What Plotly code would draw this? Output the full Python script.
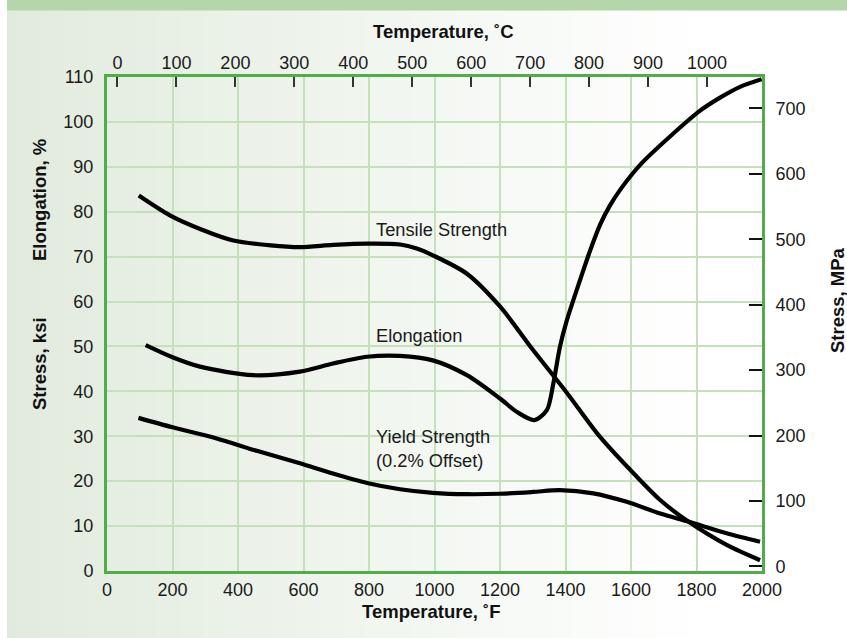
import plotly.graph_objects as go

# ---------------- data ----------------
tensile_F = [97, 192, 290, 386, 500, 589, 690, 794, 895, 946, 995, 1099, 1200, 1301, 1405, 1505, 1628, 1689, 1775, 1892, 1994]
tensile_ksi = [83.6, 79.2, 76.0, 73.6, 72.5, 72.1, 72.6, 72.9, 72.7, 71.8, 70.3, 66.2, 58.9, 49.2, 39.6, 29.9, 20.2, 15.8, 11.0, 5.8, 2.4]

elong_F = [118, 200, 284, 446, 589, 690, 794, 895, 995, 1099, 1200, 1252, 1305, 1343, 1363, 1383, 1404, 1444, 1475, 1505, 1535, 1570, 1630, 1720, 1811, 1872, 1933, 1999]
elong_pct = [50.3, 47.6, 45.5, 43.6, 44.4, 46.2, 47.7, 47.9, 46.9, 43.6, 38.4, 35.4, 33.6, 35.8, 41.8, 49.9, 55.8, 64.7, 71.3, 77.0, 81.3, 85.2, 90.6, 96.8, 102.5, 105.4, 107.8, 109.5]

yield_F = [96, 200, 335, 460, 589, 690, 794, 895, 995, 1099, 1200, 1301, 1383, 1485, 1587, 1689, 1775, 1892, 1994]
yield_ksi = [34.1, 32.0, 29.5, 26.7, 24.0, 21.7, 19.6, 18.2, 17.4, 17.1, 17.2, 17.6, 18.0, 17.3, 15.4, 12.8, 11.0, 8.4, 6.5]

F_ticks = list(range(0, 2001, 200))
C_ticks = list(range(0, 1001, 100))
ksi_ticks = list(range(0, 111, 10))
MPa_ticks = list(range(0, 701, 100))

labels = ["Tensile Strength", "Elongation", "Yield Strength<br>(0.2% Offset)"]
label_F = [815, 815, 815]
label_y = [76.1, 52.5, 27.2]

# ---------------- layout geometry ----------------
W, H = 847, 638
L, R, T, B = 107, 762, 77, 571
pw, ph = R - L, B - T


def px(x):
    return (x - L) / pw


def py(y):
    return (B - y) / ph


FONT = "Liberation Sans, Arial, Helvetica, sans-serif"
GREEN = "#4fae47"
GRID = "#c4e1bc"

fig = go.Figure()
for xs, ys in [(tensile_F, tensile_ksi), (elong_F, elong_pct), (yield_F, yield_ksi)]:
    fig.add_trace(go.Scatter(x=xs, y=ys, mode="lines",
                             line=dict(color="black", width=4.2, shape="spline", smoothing=0.8),
                             showlegend=False, hoverinfo="skip"))
# dummy trace to activate secondary axes
fig.add_trace(go.Scatter(x=[None], y=[None], xaxis="x2", yaxis="y2", showlegend=False,
                         hoverinfo="skip"))

shapes = []
# gradient background (light green -> white)
c0 = (0xE1, 0xEB, 0xDD)
c1 = (0xFF, 0xFF, 0xFF)
x_start, x_end, n = 7, 700, 60
step = (x_end - x_start) / n
for i in range(n):
    t = (i + 0.5) / n
    col = tuple(round(c0[k] + (c1[k] - c0[k]) * t) for k in range(3))
    shapes.append(dict(type="rect", xref="paper", yref="paper", layer="below",
                       x0=px(x_start + i * step), x1=px(x_start + (i + 1) * step + 1),
                       y0=py(H), y1=py(0), line=dict(width=0),
                       fillcolor="rgb(%d,%d,%d)" % col))
# top green bar
shapes.append(dict(type="rect", xref="paper", yref="paper", layer="below",
                   x0=px(7), x1=px(W), y0=py(10.5), y1=py(0), line=dict(width=0),
                   fillcolor="#b4d6aa"))

ann = []
for txt, xf, yv in zip(labels, label_F, label_y):
    ann.append(dict(text=txt, x=xf, y=yv, xref="x", yref="y", xanchor="left", yanchor="middle",
                    align="left", showarrow=False, font=dict(size=18.3, color="#1a1a1a", family=FONT)))

title_font = dict(size=18.5, color="#111", family=FONT)
ann += [
    dict(text="<b>Temperature, ˚C</b>", x=px(443), y=py(32), xref="paper", yref="paper",
         showarrow=False, font=title_font, xanchor="center", yanchor="middle"),
    dict(text="<b>Temperature, ˚F</b>", x=px(431), y=py(611), xref="paper", yref="paper",
         showarrow=False, font=title_font, xanchor="center", yanchor="middle"),
    dict(text="<b>Elongation, %</b>", x=px(39), y=py(200), xref="paper", yref="paper",
         showarrow=False, font=title_font, textangle=-90, xanchor="center", yanchor="middle"),
    dict(text="<b>Stress, ksi</b>", x=px(39), y=py(364), xref="paper", yref="paper",
         showarrow=False, font=title_font, textangle=-90, xanchor="center", yanchor="middle"),
    dict(text="<b>Stress, MPa</b>", x=px(837), y=py(300), xref="paper", yref="paper",
         showarrow=False, font=title_font, textangle=-90, xanchor="center", yanchor="middle"),
]

tick_font = dict(size=18, color="#1a1a1a", family=FONT)
F0, F1 = 0, 2000
fig.update_layout(
    width=W, height=H,
    margin=dict(l=L, r=W - R, t=T, b=H - B, pad=0, autoexpand=False),
    paper_bgcolor="white", plot_bgcolor="rgba(0,0,0,0)",
    shapes=shapes, annotations=ann, hovermode=False,
    xaxis=dict(range=[F0, F1], tickvals=F_ticks, showgrid=True, gridcolor=GRID, gridwidth=1.5,
               zeroline=False, showline=True, linecolor=GREEN, linewidth=3, ticks="",
               tickfont=tick_font, ticklabelstandoff=0, automargin=False),
    xaxis2=dict(overlaying="x", side="top", range=[(F0 - 32) * 5 / 9, (F1 - 32) * 5 / 9],
                tickvals=C_ticks, showgrid=False, zeroline=False, showline=True,
                linecolor=GREEN, linewidth=3, ticks="inside", ticklen=10, tickwidth=1.5,
                tickcolor="#333", tickfont=tick_font, ticklabelstandoff=-2, automargin=False),
    yaxis=dict(range=[0, 110], tickvals=ksi_ticks, showgrid=True, gridcolor=GRID, gridwidth=1.5,
               zeroline=False, showline=True, linecolor=GREEN, linewidth=3, ticks="",
               tickfont=tick_font, ticklabelstandoff=7, automargin=False),
    yaxis2=dict(overlaying="y", side="right", range=[-7, 748], tickvals=MPa_ticks,
                showgrid=False, zeroline=False, showline=True, linecolor=GREEN, linewidth=3,
                ticks="inside", ticklen=13, tickwidth=1.5, tickcolor="#111",
                tickfont=tick_font, ticklabelstandoff=7, automargin=False),
)

fig.write_html("out.html", config={"displayModeBar": False},
               post_script="document.body.style.margin='0';document.body.style.overflow='hidden';")
